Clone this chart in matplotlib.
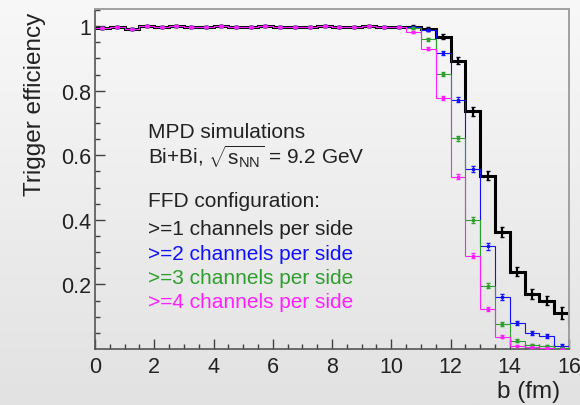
import numpy as np
import matplotlib.pyplot as plt
from matplotlib.colors import LinearSegmentedColormap

plt.rcParams['font.family'] = ['Liberation Sans', 'DejaVu Sans']
plt.rcParams['mathtext.fontset'] = 'custom'
plt.rcParams['mathtext.rm'] = 'Liberation Sans'
plt.rcParams['mathtext.it'] = 'Liberation Sans'

# bins of 0.5 fm, the last one lies beyond the axis range
edges = np.arange(0, 16.51, 0.5)
centers = edges[:-1] + 0.25

# plateau common to all configurations, bins 0 .. 10.5 fm
plateau = [0.995, 0.998, 0.992, 1.0, 0.998, 0.999, 0.997, 0.998, 0.999, 0.997,
           0.998, 0.999, 0.998, 0.997, 0.998, 0.999, 0.998, 0.998, 0.999, 0.997,
           0.998]
# tails from 10.5 to 16.5 fm
tail1 = [0.998, 0.990, 0.967, 0.893, 0.736, 0.537, 0.363, 0.240, 0.170, 0.150, 0.111, 0.077]
tail2 = [0.996, 0.988, 0.917, 0.772, 0.557, 0.318, 0.160, 0.080, 0.050, 0.041, 0.010, 0.030]
tail3 = [0.993, 0.959, 0.853, 0.653, 0.400, 0.196, 0.077, 0.026, 0.013, 0.010, 0.003, 0.003]
tail4 = [0.983, 0.930, 0.777, 0.534, 0.289, 0.124, 0.038, 0.010, 0.005, 0.002, 0.0, 0.0]

err1 = [0.004, 0.006, 0.008, 0.011, 0.013, 0.015, 0.015, 0.014, 0.015, 0.015, 0.018, 0.015]
err2 = [0.003, 0.004, 0.006, 0.008, 0.010, 0.010, 0.009, 0.007, 0.006, 0.006, 0.004, 0.005]
err3 = [0.003, 0.004, 0.006, 0.008, 0.009, 0.008, 0.006, 0.004, 0.003, 0.003, 0.002, 0.002]
err4 = [0.003, 0.005, 0.007, 0.009, 0.008, 0.006, 0.004, 0.002, 0.002, 0.001, 0.0, 0.0]
err_plateau = 0.003

labels = ['>=1 channels per side', '>=2 channels per side',
          '>=3 channels per side', '>=4 channels per side']
colors = ['black', '#1010ff', '#2e9e2e', '#ff20ff']

series = [(plateau + tail1, err1), (plateau + tail2, err2),
          (plateau + tail3, err3), (plateau + tail4, err4)]

fig = plt.figure(figsize=(5.8, 4.06), dpi=100)

# light gray gradient background
bg = fig.add_axes([0, 0, 1, 1], zorder=-1)
grad = np.linspace(0, 1, 256).reshape(-1, 1)
cmap = LinearSegmentedColormap.from_list('bg', ['#f8f8f8', '#e2e2e2'])
bg.imshow(grad, aspect='auto', cmap=cmap, extent=[0, 1, 0, 1])
bg.axis('off')

ax = fig.add_axes([95/580, 1-350/406, (569-95)/580, (350-10)/406])
ax.set_facecolor('none')

for i, ((vals, tail_err), c) in enumerate(zip(series, colors)):
    vals = np.array(vals)
    err = np.array([err_plateau]*len(plateau) + tail_err)
    lw = 2.2 if i == 0 else 0.8
    ax.stairs(vals, edges, baseline=None, color=c, lw=lw, zorder=2+i)
    ax.errorbar(centers, vals, yerr=err, fmt='s', ms=2.0 if i == 0 else 1.5,
                color=c, ecolor=c, elinewidth=lw*0.7, capsize=1.2, lw=0,
                zorder=2+i)

ax.set_xlim(0, 16)
ax.set_ylim(0, 1.053)
ax.set_xticks(np.arange(0, 17, 2))
ax.set_xticks(np.arange(0, 16.1, 0.5), minor=True)
ax.set_yticks([0.2, 0.4, 0.6, 0.8, 1.0])
ax.set_yticklabels(['0.2', '0.4', '0.6', '0.8', '1'])
ax.set_yticks(np.arange(0.05, 1.051, 0.05), minor=True)
ax.tick_params(which='both', direction='in', colors='#404040', labelcolor='#222222',
               labelsize=15.5, top=False, right=False)
ax.tick_params(which='major', length=7.5, width=1)
ax.tick_params(which='minor', length=3.8, width=1)
ax.tick_params(axis='x', pad=5)
ax.tick_params(axis='y', pad=3)
for s in ['left', 'bottom']:
    ax.spines[s].set_color('#555555')
    ax.spines[s].set_linewidth(1.2)
for s in ['top', 'right']:
    ax.spines[s].set_color('#a0a0a0')
    ax.spines[s].set_linewidth(1.4)

fig.text(35/580, 1-13/406, 'Trigger efficiency', rotation=90, ha='center',
         va='top', fontsize=17.5, color='#222222')
fig.text(560/580, 1-392/406, 'b (fm)', ha='right', va='center',
         fontsize=17.5, color='#222222')

# annotation block
tx = 148/580
fig.text(tx, 1-133/406, 'MPD simulations', va='center', fontsize=15, color='#222222')
fig.text(tx, 1-157/406, r'Bi+Bi, $\sqrt{\mathrm{s}_{\mathrm{NN}}}$ = 9.2 GeV',
         va='center', fontsize=15, color='#222222')
fig.text(tx, 1-202/406, 'FFD configuration:', va='center', fontsize=15, color='#222222')
for j, (lab, c) in enumerate(zip(labels, colors)):
    fig.text(tx, 1-(230 + 24.3*j)/406, lab, va='center', fontsize=15,
             color='#222222' if j == 0 else c)

fig.savefig('out.png', dpi=100)
